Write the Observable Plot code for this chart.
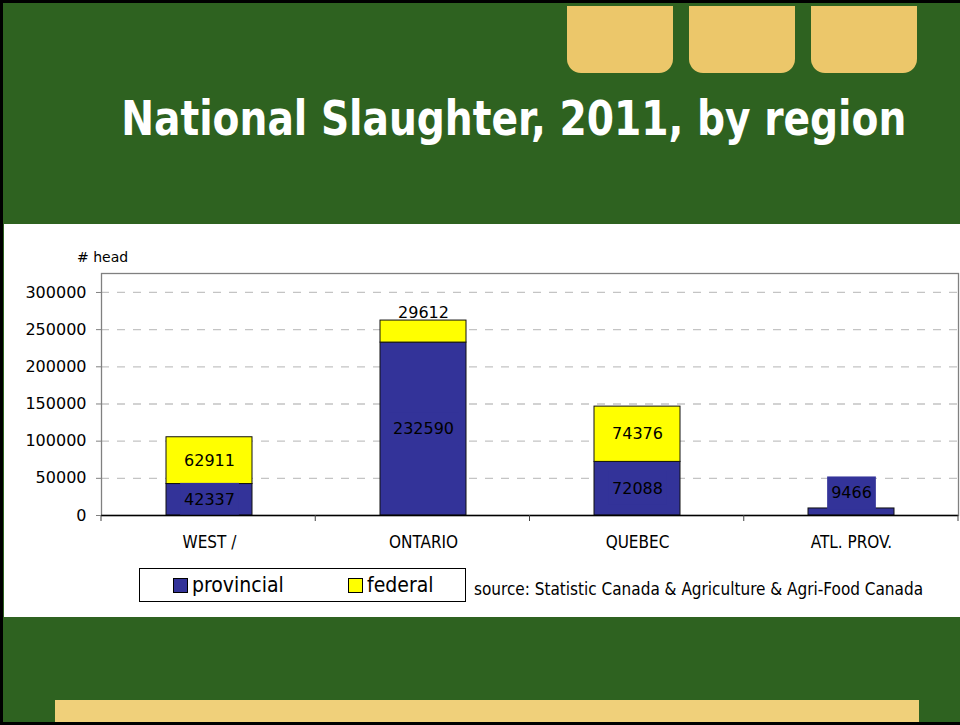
<!DOCTYPE html>
<html>
<head>
<meta charset="utf-8">
<script src="https://cdn.jsdelivr.net/npm/d3@7"></script>
<script src="https://cdn.jsdelivr.net/npm/@observablehq/plot@0.6"></script>
<style>
  html, body { margin: 0; padding: 0; background: #ffffff; }
  #page { position: relative; width: 960px; height: 725px; background: #2e6220; overflow: hidden;
          box-sizing: border-box; border-top: 3px solid #000; border-left: 3px solid #000; border-bottom: 3px solid #000; }
  .tab { position: absolute; top: 3px; width: 106px; height: 67px; background: #ecc76a; border-radius: 0 0 14px 14px; }
  #title { position: absolute; left: 0; width: 1021px; top: 85px; text-align: center; color: #fff;
           font-family: "DejaVu Sans Condensed", "DejaVu Sans", sans-serif; font-stretch: condensed; font-weight: bold; font-size: 48px; line-height: 60px; white-space: nowrap; }
  #title span { display: inline-block; transform-origin: 50% 50%; }
  #panel { position: absolute; left: 1px; top: 221px; width: 960px; height: 393px; background: #fff; }
  #chart { position: absolute; left: -4px; top: 0px; }
  #unit { position: absolute; left: 73px; top: 25px; font-family: "DejaVu Sans", sans-serif; font-size: 14px; color: #000; }
  #legend { position: absolute; left: 135px; top: 344px; width: 327px; height: 34px; border: 1px solid #000; box-sizing: border-box;
            font-family: "DejaVu Sans Condensed", "DejaVu Sans", sans-serif; font-stretch: condensed; font-size: 21px; color: #000; }
  .key { position: absolute; top: 2px; display: flex; align-items: center; height: 28px; }
  .sw { width: 13px; height: 13px; border: 1px solid #000; margin-right: 4px; }
  #source { position: absolute; left: 470px; top: 355px; font-family: "DejaVu Sans Condensed", "DejaVu Sans", sans-serif; font-stretch: condensed; font-size: 17px; color: #000; white-space: nowrap; }
  #footbar { position: absolute; left: 52px; top: 697px; width: 864px; height: 22px; background: #f0d07a; }
</style>
</head>
<body>
<div id="page">
  <div class="tab" style="left:564px"></div>
  <div class="tab" style="left:686px"></div>
  <div class="tab" style="left:808px"></div>
  <div id="title"><span id="titletext">National Slaughter, 2011, by region</span></div>
  <div id="panel">
    <div id="unit"># head</div>
    <div id="chart"></div>
    <div id="legend"></div>
    <div id="source">source: Statistic Canada &amp; Agriculture &amp; Agri-Food Canada</div>
  </div>
  <div id="footbar"></div>
</div>
<script>
const regions = ["WEST /", "ONTARIO", "QUEBEC", "ATL. PROV."];
const provincial = [42337, 232590, 72088, 9466];
const federal = [62911, 29612, 74376, 0];
const seriesNames = ["provincial", "federal"];
const seriesColors = ["#333399", "#ffff00"];
const yTicks = [0, 50000, 100000, 150000, 200000, 250000, 300000];
const yMax = 325500;
const smallSegment = 35000;

const data = regions.flatMap((r, i) => [
  {region: r, type: "provincial", value: provincial[i]},
  {region: r, type: "federal", value: federal[i]}
]).filter(d => d.value > 0);

function boundaryTicks(index, scales, values, dims) {
  const g = d3.create("svg:g");
  const n = regions.length;
  const x0 = dims.marginLeft, x1 = dims.width - dims.marginRight;
  const yb = dims.height - dims.marginBottom;
  for (let i = 0; i <= n; i++) {
    const x = x0 + (x1 - x0) * i / n;
    g.append("line").attr("x1", x).attr("x2", x).attr("y1", yb).attr("y2", yb + 6)
      .attr("stroke", "#404040").attr("stroke-width", 1);
  }
  return g.node();
}

const chart = Plot.plot({
  width: 960,
  height: 330,
  marginTop: 49,
  marginBottom: 39,
  marginLeft: 101,
  marginRight: 2,
  style: {fontFamily: "DejaVu Sans, sans-serif", fontSize: "16px", background: "transparent", overflow: "visible", color: "#000"},
  x: {domain: regions, paddingInner: 0.6, paddingOuter: 0.3, label: null},
  y: {domain: [0, yMax], label: null},
  color: {domain: seriesNames, range: seriesColors},
  marks: [
    Plot.ruleY(yTicks.filter(d => d > 0), {stroke: "#c4c4c4", strokeWidth: 1.3, strokeDasharray: "8,8"}),
    Plot.frame({stroke: "#808080", strokeWidth: 1.3}),
    Plot.barY(data, {x: "region", y: "value", fill: "type", stroke: "#111", strokeWidth: 1}),
    // provincial labels (centered / above small segments)
    Plot.text(data, Plot.stackY({x: "region", y: "value", z: "type",
      text: d => d.type === "provincial" && d.value >= smallSegment ? String(d.value) : "",
      fill: "#000"})),
    Plot.text(data, Plot.stackY2({x: "region", y: "value", z: "type",
      text: d => d.type === "provincial" && d.value < smallSegment ? String(d.value) : "",
      lineAnchor: "bottom", dy: -10, fill: "#000"})),
    // federal labels
    Plot.text(data, Plot.stackY({x: "region", y: "value", z: "type",
      text: d => d.type === "federal" && d.value >= smallSegment ? String(d.value) : "",
      fill: "#000"})),
    Plot.text(data, Plot.stackY2({x: "region", y: "value", z: "type",
      text: d => d.type === "federal" && d.value < smallSegment ? String(d.value) : "",
      lineAnchor: "bottom", dy: -3, fill: "#000"})),
    Plot.ruleY([0], {stroke: "#000", strokeWidth: 1.6}),
    boundaryTicks,
    Plot.axisY({ticks: yTicks, tickSize: 5, tickPadding: 10, tickFormat: d => String(d), stroke: "#808080", fontSize: 16, label: null}),
    Plot.axisX({tickSize: 0, tickPadding: 20, fontFamily: "DejaVu Sans Condensed, DejaVu Sans, sans-serif", fontSize: 17, label: null})
  ]
});

document.getElementById("chart").appendChild(chart);

// label background boxes for provincial labels
const provStrings = new Set(provincial.map(String));
d3.select(chart).selectAll("text").each(function() {
  if (!provStrings.has(this.textContent)) return;
  if (this.closest('[aria-label="y-axis tick label"]') || this.closest('[aria-label="x-axis tick label"]')) return;
  const b = this.getBBox();
  const padX = 4, padY = 7;
  const r = document.createElementNS("http://www.w3.org/2000/svg", "rect");
  r.setAttribute("x", b.x - padX); r.setAttribute("y", b.y - padY);
  r.setAttribute("width", b.width + 2 * padX); r.setAttribute("height", b.height + 2 * padY);
  r.setAttribute("fill", seriesColors[0]);
  if (this.getAttribute("transform")) r.setAttribute("transform", this.getAttribute("transform"));
  this.parentNode.insertBefore(r, this);
});

// title fitted to the reference width
const tt = document.getElementById("titletext");
const tw = tt.getBoundingClientRect().width;
tt.style.transform = `scaleX(${785 / tw})`;

// legend
const legend = d3.select("#legend");
const keyLeft = [33, 208];
seriesNames.forEach((s, i) => {
  const k = legend.append("div").attr("class", "key").style("left", keyLeft[i] + "px");
  k.append("div").attr("class", "sw").style("background", seriesColors[i]);
  k.append("span").text(s);
});
</script>
</body>
</html>
